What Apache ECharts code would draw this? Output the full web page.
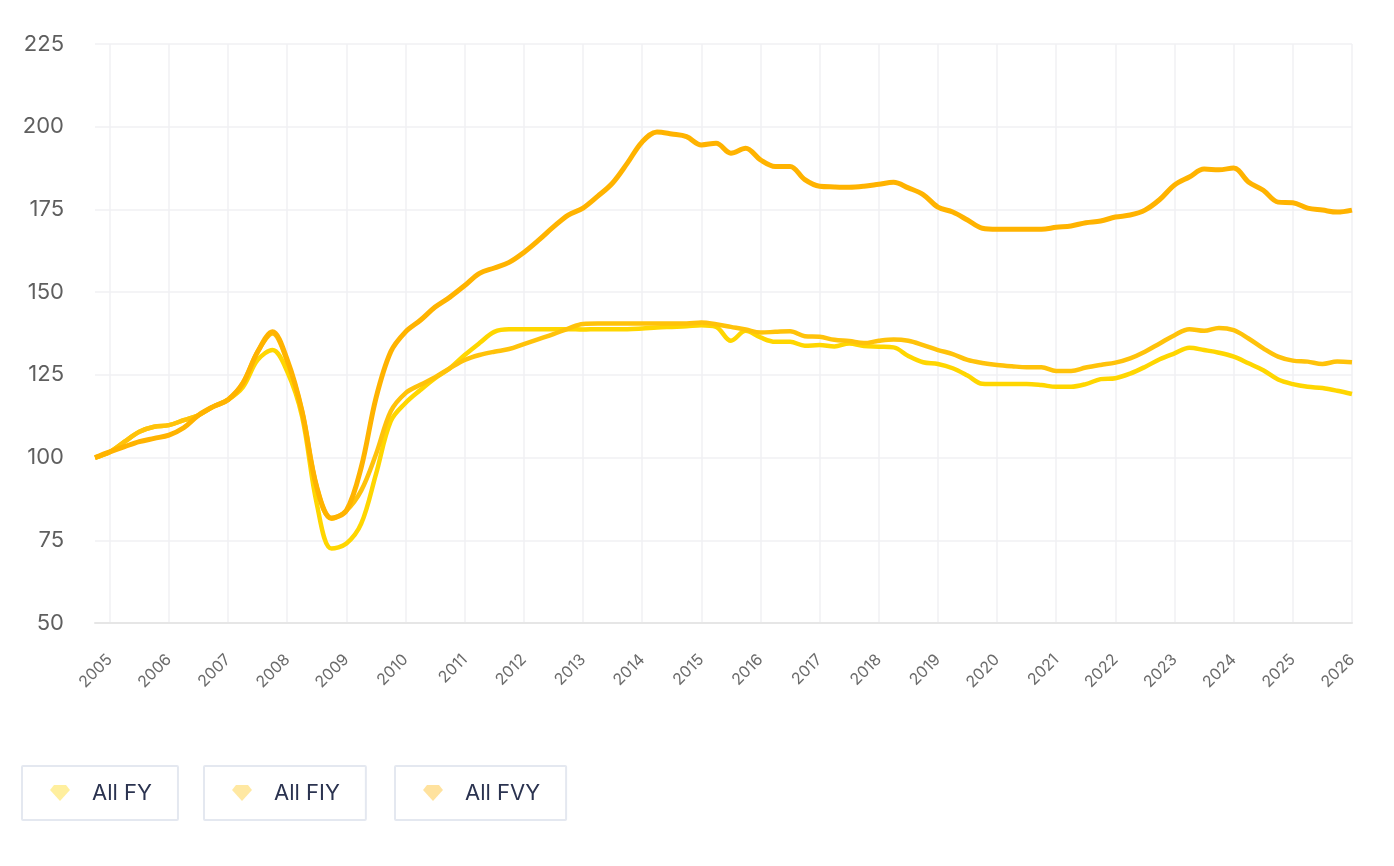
<!DOCTYPE html>
<html>
<head>
<meta charset="utf-8">
<title>Index chart</title>
<script src="https://cdn.jsdelivr.net/npm/echarts@6/dist/echarts.min.js"></script>
<style>
  html, body { margin: 0; padding: 0; background: #fff; }
  #main { width: 1394px; height: 866px; }
</style>
</head>
<body>
<div id="main"></div>
<script>
// quarterly categories, 2004-10 .. 2026-01
var quarters = [];
for (var y = 2004; y <= 2026; y++) {
  ['01', '04', '07', '10'].forEach(function (m) {
    var k = y + '-' + m;
    if (k >= '2004-10' && k <= '2026-01') quarters.push(k);
  });
}

var yTicks = { min: 50, max: 225, step: 25 };
var seriesNames = ['All FY', 'All FIY', 'All FVY'];
var seriesColors = ['#FFD600', '#FFC20A', '#FFB300'];

var allFY = [
  100,
  101.7, 104.8, 107.8, 109.3,
  109.8, 111.3, 112.8, 115.4,
  117.5, 121.3, 129.5, 132.5,
  126, 112.5, 86, 72.5,
  74, 80, 95, 111,
  116.5, 120.4, 124, 127,
  131, 134.6, 138, 138.8,
  138.8, 138.8, 138.8, 138.8,
  138.7, 138.8, 138.8, 138.8,
  139, 139.3, 139.5, 139.7,
  140, 139.5, 135.3, 138.3,
  136.3, 135, 135, 133.8,
  134, 133.6, 134.5, 133.7,
  133.5, 133.3, 130.7, 128.8,
  128.3, 127, 124.8, 122.3,
  122.2, 122.2, 122.2, 121.9,
  121.4, 121.4, 122.2, 123.7,
  124, 125.4, 127.4, 129.7,
  131.5, 133.2, 132.5, 131.7,
  130.5, 128.5, 126.4, 123.6,
  122.2, 121.4, 121, 120.2,
  119.2
];

var allFIY = [
  100,
  101.7, 104.8, 107.8, 109.3,
  109.8, 111.3, 112.8, 115.4,
  117.5, 122.5, 132, 137.5,
  129, 114, 91, 81.5,
  84, 90, 101, 114,
  119.5, 122, 124.3, 127,
  129.5, 131, 132, 132.8,
  134.3, 135.8, 137.3, 139,
  140.4, 140.5, 140.5, 140.5,
  140.5, 140.5, 140.5, 140.5,
  140.8, 140.3, 139.5, 138.7,
  137.8, 138, 138.2, 136.7,
  136.5, 135.6, 135.2, 134.6,
  135.3, 135.7, 135.3, 134,
  132.5, 131.3, 129.5, 128.6,
  128, 127.6, 127.3, 127.3,
  126.2, 126.2, 127.2, 128,
  128.7, 130, 132, 134.5,
  137, 138.8, 138.3, 139.2,
  138.5, 136, 133, 130.5,
  129.3, 129, 128.3, 129,
  128.8
];

var allFVY = [
  100,
  101.7, 103.3, 104.8, 105.8,
  106.8, 109, 112.8, 115.4,
  117.5, 122.5, 132, 138,
  129.5, 114, 91, 81.7,
  84, 97, 118, 132,
  138, 141.5, 145.5, 148.5,
  152, 155.7, 157.3, 159,
  162, 165.7, 169.7, 173.3,
  175.4, 179, 183, 189,
  195.4, 198.4, 197.8, 197,
  194.5, 195, 192, 193.5,
  190, 188, 188, 184,
  182, 181.8, 181.7, 182,
  182.6, 183.2, 181.5, 179.5,
  175.7, 174.2, 171.8, 169.3,
  169, 169, 169, 169,
  169.6, 170, 171, 171.5,
  172.7, 173.3, 174.8, 178,
  182.4, 184.8, 187.2, 187,
  187.5, 183.3, 180.8, 177.2,
  177, 175.4, 174.8, 174.2,
  174.8
];

var seriesData = [allFY, allFIY, allFVY];

var chart = echarts.init(document.getElementById('main'));

var isYearStart = function (index, value) {
  return String(value).slice(5) === '01';
};

// gem shaped legend icon
var gem = 'path://M4,0 L16,0 L20,5 L10,16 L0,5 Z';

// one bordered box per legend item
var legendLefts = [22, 204, 395];
var legends = seriesNames.map(function (name, i) {
  return {
    left: legendLefts[i],
    top: 766,
    orient: 'horizontal',
    padding: [15, 26, 15, 28],
    borderColor: '#e4e8f0',
    borderWidth: 2,
    borderRadius: 1,
    itemWidth: 20,
    itemHeight: 16,
    itemGap: 0,
    textStyle: {
      fontFamily: 'Inter, "Open Sans", sans-serif',
      fontSize: 22,
      color: '#2b3350',
      lineHeight: 24,
      padding: [0, 0, 0, 17]
    },
    data: [{
      name: name,
      icon: gem,
      itemStyle: { color: seriesColors[i], opacity: 0.38 }
    }]
  };
});

var option = {
  animation: false,
  backgroundColor: '#ffffff',
  legend: legends,
  grid: {
    left: 95,
    right: 42,
    top: 44,
    bottom: 243
  },
  xAxis: {
    type: 'category',
    data: quarters,
    boundaryGap: false,
    axisLine: { lineStyle: { color: '#e6e6e6', width: 2 } },
    axisTick: { show: false },
    axisLabel: {
      interval: isYearStart,
      rotate: 45,
      margin: 34,
      fontFamily: 'Inter, "Open Sans", sans-serif',
      fontSize: 16,
      color: '#6b6b6b',
      formatter: function (v) { return v.slice(0, 4); }
    },
    splitLine: {
      show: true,
      interval: isYearStart,
      lineStyle: { color: '#f1f1f3', width: 1.5 }
    }
  },
  yAxis: {
    type: 'value',
    min: yTicks.min,
    max: yTicks.max,
    interval: yTicks.step,
    axisLine: { show: false },
    axisTick: { show: false },
    axisLabel: {
      margin: 31,
      fontFamily: 'Inter, "Open Sans", sans-serif',
      fontSize: 22,
      color: '#5f5f5f'
    },
    splitLine: { lineStyle: { color: '#f1f1f3', width: 1.5 } }
  },
  series: seriesNames.map(function (name, i) {
    return {
      name: name,
      type: 'line',
      data: seriesData[i],
      smooth: 0.35,
      symbol: 'none',
      lineStyle: { color: seriesColors[i], width: i === 2 ? 5 : 4.5 },
      itemStyle: { color: seriesColors[i] }
    };
  })
};

chart.setOption(option);
</script>
</body>
</html>
